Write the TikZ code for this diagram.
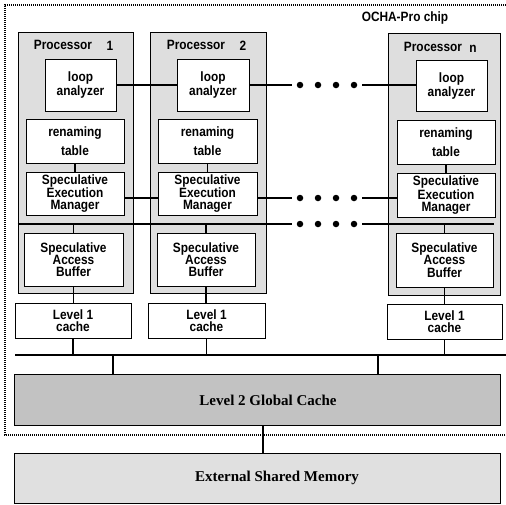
\documentclass[tikz,border=0pt]{standalone}
\usepackage{fontspec}
\setmainfont{Liberation Sans}[FakeStretch=0.88]
\newfontfamily\serifb{Liberation Serif}
\begin{document}
\begin{tikzpicture}[x=1pt,y=-1pt,
  box/.style={draw=black, line width=1pt, fill=white, font=\bfseries\fontsize{13.5}{12.3}\selectfont, align=center, inner sep=0pt},
  proc/.style={draw=black, line width=1pt, fill=gray!26, inner sep=0pt},
  conn/.style={line width=1.4pt},
  dotc/.style={fill=black, circle, inner sep=0pt, minimum size=6.5pt},
  lbl/.style={font=\bfseries\fontsize{13.5}{12.3}\selectfont, inner sep=0pt},
  big/.style={draw=black, line width=1pt, inner sep=0pt},
  bigt/.style={font=\serifb\bfseries\fontsize{15}{16}\selectfont, inner sep=0pt}
]
\useasboundingbox (0,0) rectangle (506,504);
% chip boundary
\draw[line width=1.3pt, dash pattern=on 1pt off 1pt] (506,5) -- (5,5) -- (5,435) -- (506,435);
\node[lbl] (chip) at (405,18) {OCHA-Pro chip};

% processors
\node[proc, minimum width=115pt, minimum height=261pt] (p1) at (75.5,162.5) {};
\node[proc, minimum width=116pt, minimum height=261pt] (p2) at (208,162.5) {};
\node[proc, minimum width=112pt, minimum height=262pt] (p3) at (444,164) {};
\node[lbl] (p1l) at (63,45) {Processor};
\node[lbl] (p1n) at (110,46) {1};
\node[lbl] (p2l) at (196,45) {Processor};
\node[lbl] (p2n) at (243,46) {2};
\node[lbl] (p3l) at (433,47) {Processor};
\node[lbl] (p3n) at (473,49) {n};

% loop analyzers
\node[box, minimum width=71pt, minimum height=52pt] (la1) at (80.5,85) {loop\\analyzer};
\node[box, minimum width=72pt, minimum height=52pt] (la2) at (213,85) {loop\\analyzer};
\node[box, minimum width=71pt, minimum height=51pt] (la3) at (451.5,86) {loop\\analyzer};

% renaming tables
\node[box, minimum width=98pt, minimum height=44pt] (rt1) at (75,141) {renaming\\[5pt]table};
\node[box, minimum width=99pt, minimum height=44pt] (rt2) at (207.5,141) {renaming\\[5pt]table};
\node[box, minimum width=98pt, minimum height=44pt] (rt3) at (446,142) {renaming\\[5pt]table};

% SEM
\node[box, minimum width=98pt, minimum height=43pt] (se1) at (75,193.5) {Speculative\\Execution\\Manager};
\node[box, minimum width=99pt, minimum height=43pt] (se2) at (207.5,193.5) {Speculative\\Execution\\Manager};
\node[box, minimum width=98pt, minimum height=44pt] (se3) at (446,195) {Speculative\\Execution\\Manager};

% SAB
\node[box, minimum width=99pt, minimum height=53pt] (sb1) at (73.5,259.5) {Speculative\\Access\\Buffer};
\node[box, minimum width=98pt, minimum height=53pt] (sb2) at (206,259.5) {Speculative\\Access\\Buffer};
\node[box, minimum width=97pt, minimum height=54pt] (sb3) at (444.5,260) {Speculative\\Access\\Buffer};

% Level 1 caches
\node[box, minimum width=116pt, minimum height=35pt] (c1) at (73,320.5) {Level 1\\cache};
\node[box, minimum width=117pt, minimum height=35pt] (c2) at (206.5,320.5) {Level 1\\cache};
\node[box, minimum width=115pt, minimum height=35pt] (c3) at (444.5,321.5) {Level 1\\cache};

% Level 2 and memory
\node[big, fill=gray!48, minimum width=486pt, minimum height=51pt] (l2) at (257,399.5) {};
\node[bigt] (l2t) at (268,400) {Level 2 Global Cache};
\node[big, fill=gray!24, minimum width=486pt, minimum height=50pt] (em) at (257,478) {};
\node[bigt] (emt) at (277,478) {External Shared Memory};

% dots
\foreach \yy/\r in {85/a,198/b,224/c}
  \foreach \xx [count=\i] in {300,318,336,354}
    \node[dotc] (dot\r\i) at (\xx,\yy) {};

% loop analyzer links
\draw[conn] (la1.east) -- (la2.west);
\draw[conn] (la2.east) -- ([xshift=-5pt]dota1.west);
\draw[conn] ([xshift=5pt]dota4.east) -- (la3.west |- dota4);

% SEM links
\draw[conn] (se1.east |- dotb1) -- (se2.west |- dotb1);
\draw[conn] (se2.east |- dotb1) -- ([xshift=-5pt]dotb1.west);
\draw[conn] ([xshift=5pt]dotb4.east) -- (se3.west |- dotb4);

% internal bus
\draw[conn] (p1.west |- dotc1) -- ([xshift=-5pt]dotc1.west);
\draw[conn] ([xshift=5pt]dotc4.east) -- (sb3.east |- dotc4);

% verticals inside processors
\draw[conn] (rt1.south) -- (se1.north);
\draw[conn] (rt2.south) -- (se2.north);
\draw[conn] (rt3.south) -- (se3.north);
\draw[conn] (sb1.north |- dotc1) -- (sb1.north);
\draw[conn] (sb2.north |- dotc1) -- (sb2.north);
\draw[conn] (sb3.north |- dotc1) -- (sb3.north);
\draw[conn] (sb1.south) -- (sb1.south |- c1.north);
\draw[conn] (sb2.south) -- (sb2.south |- c2.north);
\draw[conn] (sb3.south) -- (sb3.south |- c3.north);

% L1 bus
\coordinate (busL) at (15,355);
\coordinate (busR) at (506,355);
\draw[conn] (busL) -- (busR);
\draw[conn] (c1.south) -- (c1.south |- busL);
\draw[conn] (c2.south) -- (c2.south |- busL);
\draw[conn] (c3.south) -- (c3.south |- busL);
\coordinate (t1) at (113,355);
\coordinate (t2) at (378,355);
\draw[conn] (t1) -- (t1 |- l2.north);
\draw[conn] (t2) -- (t2 |- l2.north);
\coordinate (vx) at (263,0);
\draw[conn] (vx |- l2.south) -- (vx |- em.north);
\end{tikzpicture}
\end{document}
